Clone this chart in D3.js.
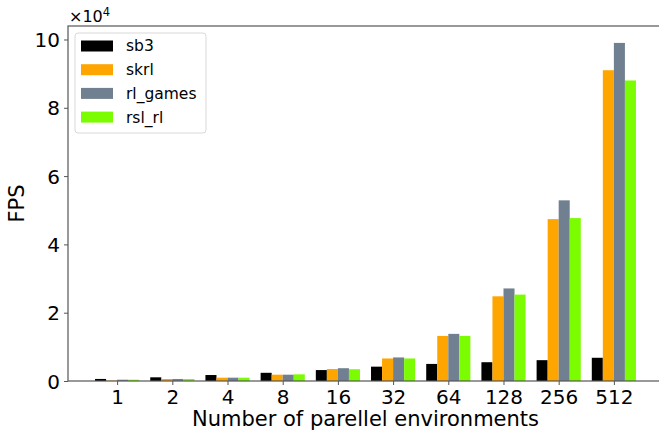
<!DOCTYPE html>
<html>
<head>
<meta charset="utf-8">
<script src="https://cdn.jsdelivr.net/npm/d3@7"></script>
<style>
  html, body { margin: 0; padding: 0; background: #fff; }
  svg { display: block; font-family: "DejaVu Sans", sans-serif; }
</style>
</head>
<body>
<svg id="chart" width="659" height="430"></svg>
<script>
// Number of parallel environments (x categories)
const envCounts = ["1", "2", "4", "8", "16", "32", "64", "128", "256", "512"];
const seriesNames = ["sb3", "skrl", "rl_games", "rsl_rl"];
const seriesColors = ["#000000", "#FFA500", "#708090", "#7CFC00"];

// Frames per second for each library
const sb3     = [600, 1080, 1750, 2400, 3200, 4200, 5000, 5500, 6100, 6800];
const skrl    = [120, 590, 970, 1850, 3500, 6600, 13200, 24800, 47400, 91000];
const rlGames = [380, 590, 970, 1850, 3750, 6900, 13800, 27100, 52900, 99000];
const rslRl   = [380, 590, 970, 1950, 3450, 6600, 13200, 25300, 47700, 88000];
const seriesValues = [sb3, skrl, rlGames, rslRl];

const yTicks = [0, 20000, 40000, 60000, 80000, 100000];

const svg = d3.select("#chart");
const plot = { left: 68, right: 663, top: 26, bottom: 381 };
const barW = 0.2;

const x = d3.scaleLinear()
  .domain([-0.4 - 0.49, 9.4 + 0.49])
  .range([plot.left, plot.right]);
const yMax = d3.max(seriesValues.flat());
const y = d3.scaleLinear()
  .domain([0, yMax * 1.05])
  .range([plot.bottom, plot.top]);

// bars
seriesValues.forEach((vals, s) => {
  svg.append("g")
    .selectAll("rect")
    .data(vals)
    .join("rect")
    .attr("x", (d, i) => x(i + (s - 2) * barW))
    .attr("width", x(barW) - x(0))
    .attr("y", d => y(d))
    .attr("height", d => y(0) - y(d))
    .attr("fill", seriesColors[s]);
});

const spineColor = "#555";

// axes
const xAxis = d3.axisBottom(x)
  .tickValues(d3.range(envCounts.length))
  .tickFormat(i => envCounts[i])
  .tickSize(4).tickPadding(4);
const gx = svg.append("g")
  .attr("transform", `translate(0,${plot.bottom})`)
  .call(xAxis);

const yAxis = d3.axisLeft(y)
  .tickValues(yTicks)
  .tickFormat(d => d / 1e4)
  .tickSize(4).tickPadding(4);
const gy = svg.append("g")
  .attr("transform", `translate(${plot.left},0)`)
  .call(yAxis);

[gx, gy].forEach(g => {
  g.select(".domain").remove();
  g.selectAll("line").attr("stroke", spineColor);
  g.selectAll("text")
    .attr("fill", "#000")
    .style("font-size", "20px")
    .style("font-family", "DejaVu Sans, sans-serif");
});
gx.selectAll("text").attr("dy", "0.75em");
gy.selectAll("text").attr("dy", "0.36em");

// spines
svg.append("rect")
  .attr("x", plot.left).attr("y", plot.top)
  .attr("width", plot.right - plot.left)
  .attr("height", plot.bottom - plot.top)
  .attr("fill", "none")
  .attr("stroke", spineColor)
  .attr("stroke-width", 1.2);

// offset text
const off = svg.append("text")
  .attr("x", plot.left + 1).attr("y", 22)
  .style("font-size", "16px").attr("fill", "#000");
off.append("tspan").text("×10");
off.append("tspan").attr("dy", -6).style("font-size", "11.5px").text("4");

// axis labels
svg.append("text")
  .attr("x", (plot.left + plot.right) / 2)
  .attr("y", 426)
  .attr("text-anchor", "middle")
  .style("font-size", "21px")
  .text("Number of parellel environments");

svg.append("text")
  .attr("transform", `translate(24,${(plot.top + plot.bottom) / 2}) rotate(-90)`)
  .attr("text-anchor", "middle")
  .style("font-size", "21px")
  .text("FPS");

// legend
const lg = svg.append("g").attr("transform", "translate(75,33)");
lg.append("rect")
  .attr("x", 0).attr("y", 0).attr("width", 131).attr("height", 100)
  .attr("rx", 3)
  .attr("fill", "#fff").attr("fill-opacity", 0.8)
  .attr("stroke", "#d9d9d9");
seriesNames.forEach((name, s) => {
  const row = lg.append("g").attr("transform", `translate(0,${13 + s * 23.7})`);
  row.append("rect")
    .attr("x", 6).attr("y", -5.5).attr("width", 32).attr("height", 11)
    .attr("fill", seriesColors[s]);
  row.append("text")
    .attr("x", 51).attr("y", 0).attr("dy", "0.35em")
    .style("font-size", "15.5px")
    .text(name);
});
</script>
</body>
</html>
